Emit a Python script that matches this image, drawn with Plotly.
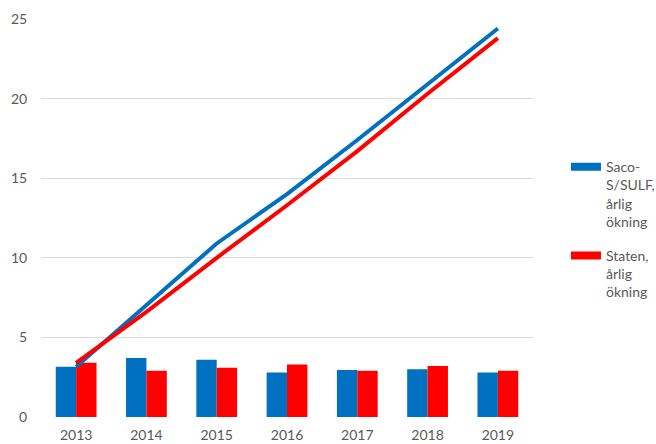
import plotly.graph_objects as go

years = ["2013", "2014", "2015", "2016", "2017", "2018", "2019"]
saco_annual = [3.15, 3.7, 3.6, 2.8, 2.95, 3.0, 2.8]
staten_annual = [3.4, 2.9, 3.1, 3.3, 2.9, 3.2, 2.9]
saco_cum = [3.15, 7.0, 10.9, 14.0, 17.4, 20.9, 24.4]
staten_cum = [3.4, 6.6, 10.0, 13.3, 16.7, 20.3, 23.8]
y_ticks = [0, 5, 10, 15, 20, 25]

blue = "#0070C0"
red = "#FF0000"
font_fam = "Lato, 'Open Sans', sans-serif"
txt_col = "#595959"

fig = go.Figure()
fig.add_trace(go.Bar(x=years, y=saco_annual, marker=dict(color=blue, line=dict(width=0)), showlegend=False))
fig.add_trace(go.Bar(x=years, y=staten_annual, marker=dict(color=red, line=dict(width=0)), showlegend=False))
fig.add_trace(go.Scatter(x=years, y=saco_cum, mode="lines", line=dict(color=blue, width=4), showlegend=False))
fig.add_trace(go.Scatter(x=years, y=staten_cum, mode="lines", line=dict(color=red, width=4), showlegend=False))
# legend-only entries
fig.add_trace(go.Scatter(x=[None], y=[None], mode="lines", line=dict(color=blue, width=8),
                         name="Saco-<br>S/SULF,<br>årlig<br>ökning", legendgroup="a"))
fig.add_trace(go.Scatter(x=[None], y=[None], mode="lines", line=dict(color=red, width=8),
                         name="Staten,<br>årlig<br>ökning", legendgroup="b"))

fig.update_layout(
    width=656, height=444,
    margin=dict(l=41, r=123, t=19, b=27, autoexpand=False),
    paper_bgcolor="white", plot_bgcolor="white",
    barmode="group", bargap=0.42, bargroupgap=0,
    font=dict(family=font_fam, size=14, color=txt_col),
    legend=dict(x=1.067, y=0.668, xanchor="left", yanchor="top", valign="top",
                font=dict(size=14, color=txt_col), tracegroupgap=13, bgcolor="rgba(0,0,0,0)"),
    xaxis=dict(type="category", showgrid=False, showline=False, ticks="outside", ticklen=5,
               tickcolor="rgba(0,0,0,0)", tickfont=dict(size=14, color=txt_col)),
    yaxis=dict(range=[0, 25], tickvals=y_ticks, showgrid=True, gridcolor="#D9D9D9", gridwidth=1,
               zeroline=False, showline=False, ticks="outside", ticklen=10, tickcolor="rgba(0,0,0,0)",
               tickfont=dict(size=14, color=txt_col)),
)

fig.write_html("out.html")
